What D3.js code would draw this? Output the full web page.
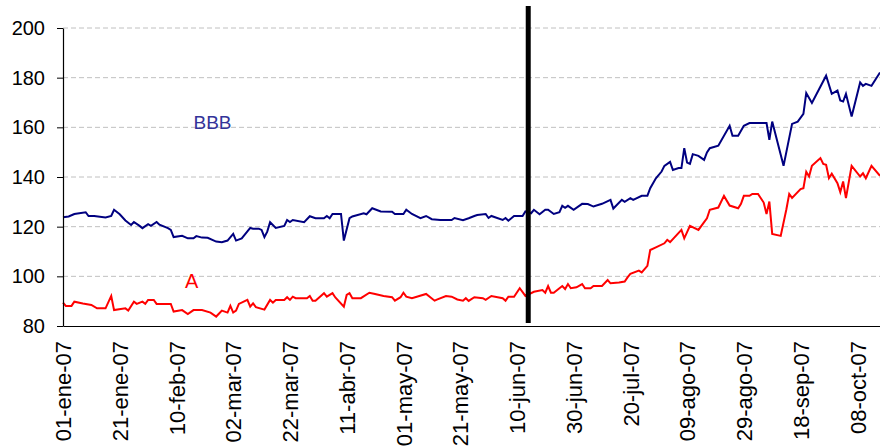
<!DOCTYPE html>
<html>
<head>
<meta charset="utf-8">
<script src="https://cdn.jsdelivr.net/npm/d3@7"></script>
<style>
  body { margin: 0; background: #fff; }
  svg { display: block; font-family: "Liberation Sans", Arial, sans-serif; }
</style>
</head>
<body>
<div id="chart"></div>
<script>
// spreads (bp), daily closes
var bbbDates = ["2007-01-01","2007-01-03","2007-01-05","2007-01-09","2007-01-10","2007-01-12","2007-01-16","2007-01-18","2007-01-19","2007-01-21",
  "2007-01-23","2007-01-25","2007-01-26","2007-01-28","2007-01-29","2007-01-31","2007-02-01","2007-02-03","2007-02-04","2007-02-07",
  "2007-02-08","2007-02-09","2007-02-12","2007-02-14","2007-02-16","2007-02-17","2007-02-19","2007-02-21","2007-02-24","2007-02-26",
  "2007-02-28","2007-03-02","2007-03-03","2007-03-05","2007-03-08","2007-03-09","2007-03-11","2007-03-12","2007-03-13","2007-03-14",
  "2007-03-15","2007-03-17","2007-03-20","2007-03-21","2007-03-22","2007-03-23","2007-03-27","2007-03-29","2007-03-31","2007-04-03",
  "2007-04-04","2007-04-05","2007-04-06","2007-04-09","2007-04-10","2007-04-12","2007-04-13","2007-04-17","2007-04-18","2007-04-20",
  "2007-04-23","2007-04-27","2007-04-28","2007-05-01","2007-05-02","2007-05-04","2007-05-07","2007-05-09","2007-05-11","2007-05-14",
  "2007-05-18","2007-05-19","2007-05-22","2007-05-24","2007-05-26","2007-05-27","2007-05-30","2007-05-31","2007-06-01","2007-06-05",
  "2007-06-06","2007-06-07","2007-06-09","2007-06-12","2007-06-13","2007-06-15","2007-06-16","2007-06-18","2007-06-20","2007-06-21",
  "2007-06-23","2007-06-25","2007-06-26","2007-06-27","2007-06-28","2007-06-30","2007-07-03","2007-07-05","2007-07-07","2007-07-10",
  "2007-07-13","2007-07-14","2007-07-17","2007-07-18","2007-07-20","2007-07-21","2007-07-24","2007-07-26","2007-07-27","2007-07-29",
  "2007-07-31","2007-08-01","2007-08-03","2007-08-04","2007-08-06","2007-08-07","2007-08-08","2007-08-09","2007-08-10","2007-08-11",
  "2007-08-13","2007-08-15","2007-08-16","2007-08-17","2007-08-20","2007-08-24","2007-08-25","2007-08-27","2007-08-29","2007-08-31",
  "2007-09-06","2007-09-07","2007-09-08","2007-09-12","2007-09-15","2007-09-17","2007-09-19","2007-09-20","2007-09-22","2007-09-27",
  "2007-09-29","2007-10-01","2007-10-02","2007-10-03","2007-10-04","2007-10-06","2007-10-09","2007-10-10","2007-10-11","2007-10-13",
  "2007-10-16"];
var bbbValues = [123.8,124.1,125.1,125.8,124.3,124.3,123.7,124.3,126.8,125.0,
  122.5,120.7,121.9,120.3,119.4,121.0,120.3,121.9,120.8,119.4,
  118.7,115.8,116.3,115.3,115.3,116.2,115.6,115.5,114.0,113.7,
  114.4,117.1,114.4,115.3,119.5,119.2,119.2,118.7,115.8,118.0,
  121.8,119.5,120.3,122.7,121.9,122.7,121.8,124.2,123.4,123.4,
  124.3,123.4,125.1,125.1,114.4,123.4,124.1,125.4,125.0,127.4,
  126.1,126.0,125.1,125.1,126.8,125.1,123.4,124.3,123.0,122.7,
  122.7,123.5,122.6,123.4,124.3,124.7,125.1,123.5,124.3,122.7,
  123.5,122.4,124.3,124.3,126.1,125.4,126.8,125.0,126.8,126.8,
  125.1,125.8,128.4,127.6,128.4,126.8,129.2,129.1,128.1,129.2,
  130.8,127.3,130.8,130.0,131.5,130.8,132.4,132.4,135.5,139.5,
  142.2,144.5,146.1,142.8,143.6,143.6,151.6,145.8,145.3,149.2,
  148.5,146.9,149.9,151.6,152.6,160.6,156.6,156.6,160.6,161.7,
  161.7,155.0,162.3,144.5,161.4,162.3,165.4,173.8,169.8,180.8,
  173.5,174.8,170.8,170.4,173.5,164.4,178.1,176.7,177.5,176.7,
  182.1];

var aDates = ["2007-01-01","2007-01-02","2007-01-04","2007-01-05","2007-01-08","2007-01-11","2007-01-13","2007-01-16","2007-01-18","2007-01-19",
  "2007-01-23","2007-01-24","2007-01-26","2007-01-27","2007-01-29","2007-01-30","2007-01-31","2007-02-02","2007-02-03","2007-02-08",
  "2007-02-09","2007-02-12","2007-02-14","2007-02-16","2007-02-19","2007-02-22","2007-02-24","2007-02-26","2007-02-28","2007-03-01",
  "2007-03-02","2007-03-03","2007-03-04","2007-03-07","2007-03-08","2007-03-09","2007-03-10","2007-03-13","2007-03-15","2007-03-16",
  "2007-03-17","2007-03-20","2007-03-21","2007-03-22","2007-03-23","2007-03-24","2007-03-28","2007-03-29","2007-03-30","2007-03-31",
  "2007-04-03","2007-04-04","2007-04-06","2007-04-07","2007-04-10","2007-04-11","2007-04-12","2007-04-13","2007-04-16","2007-04-19",
  "2007-04-21","2007-04-24","2007-04-27","2007-04-28","2007-04-30","2007-05-01","2007-05-02","2007-05-04","2007-05-09","2007-05-12",
  "2007-05-13","2007-05-16","2007-05-18","2007-05-20","2007-05-22","2007-05-23","2007-05-24","2007-05-26","2007-05-29","2007-05-30",
  "2007-06-01","2007-06-05","2007-06-06","2007-06-07","2007-06-09","2007-06-11","2007-06-13","2007-06-16","2007-06-19","2007-06-20",
  "2007-06-21","2007-06-22","2007-06-23","2007-06-25","2007-06-26","2007-06-27","2007-06-28","2007-06-29","2007-07-01","2007-07-03",
  "2007-07-04","2007-07-06","2007-07-07","2007-07-10","2007-07-12","2007-07-13","2007-07-16","2007-07-18","2007-07-19","2007-07-20",
  "2007-07-23","2007-07-24","2007-07-26","2007-07-27","2007-07-29","2007-08-01","2007-08-02","2007-08-03","2007-08-07","2007-08-08",
  "2007-08-10","2007-08-13","2007-08-15","2007-08-16","2007-08-17","2007-08-20","2007-08-22","2007-08-24","2007-08-27","2007-08-28",
  "2007-08-29","2007-08-31","2007-09-01","2007-09-03","2007-09-05","2007-09-06","2007-09-07","2007-09-08","2007-09-11","2007-09-13",
  "2007-09-14","2007-09-15","2007-09-18","2007-09-19","2007-09-20","2007-09-21","2007-09-22","2007-09-25","2007-09-26","2007-09-27",
  "2007-09-28","2007-09-29","2007-10-01","2007-10-02","2007-10-03","2007-10-04","2007-10-06","2007-10-09","2007-10-10","2007-10-11",
  "2007-10-13","2007-10-16"];
var aValues = [89.4,88.1,88.1,89.8,89.1,88.5,87.1,87.1,92.1,86.4,
  87.1,86.2,89.8,88.9,89.8,88.9,90.5,90.5,88.9,88.9,
  85.8,86.4,84.8,86.4,86.4,85.4,83.8,86.2,85.4,88.1,
  85.4,86.2,88.9,90.5,87.8,89.1,87.6,86.6,90.5,89.4,
  90.5,90.5,91.6,90.5,91.8,91.2,91.2,92.1,90.2,90.2,
  93.2,91.8,93.2,91.5,87.8,92.5,93.2,91.2,91.2,93.4,
  92.9,92.1,91.6,90.2,91.6,93.4,91.8,91.2,92.9,90.2,
  90.7,92.1,91.8,90.7,90.2,91.2,90.1,91.6,91.2,90.5,
  92.1,91.2,90.2,91.8,91.8,95.2,92.1,93.8,94.5,93.4,
  96.1,93.4,93.4,95.2,96.1,94.9,96.9,95.2,95.6,96.9,
  95.2,95.2,96.1,96.1,98.5,97.2,97.5,97.9,99.6,101.0,
  102.3,101.6,104.2,110.6,111.7,113.3,114.7,113.8,118.7,115.3,
  120.3,118.7,121.8,123.4,126.8,127.7,132.4,128.5,127.4,129.2,
  132.4,132.4,133.2,133.2,129.7,125.1,130.1,117.1,116.3,127.0,
  133.2,131.6,135.1,135.5,142.1,140.2,144.5,147.6,145.3,144.9,
  139.5,141.3,137.5,133.9,138.2,131.5,144.5,140.2,141.5,139.5,
  144.5,140.5];

var seriesNames = ["BBB", "A"];
var tickDates = ["2007-01-01","2007-01-21","2007-02-10","2007-03-02","2007-03-22","2007-04-11","2007-05-01",
  "2007-05-21","2007-06-10","2007-06-30","2007-07-20","2007-08-09","2007-08-29","2007-09-18","2007-10-08"];
var monthsEs = ["ene","feb","mar","abr","may","jun","jul","ago","sep","oct","nov","dic"];
var yTicks = [80, 100, 120, 140, 160, 180, 200];
var eventDate = "2007-06-14";
var dateRange = ["2007-01-01", "2007-10-16"];

var svgWidth = 880, svgHeight = 447;
var plotLeft = 63, plotRight = 880, plotTop = 28, plotBottom = 326;

var parseDate = d3.timeParse("%Y-%m-%d");
var fmt = function(d){
    return d3.timeFormat("%d")(d) + "-" + monthsEs[d.getMonth()] + "-" + d3.timeFormat("%y")(d);
};

var x = d3.scaleTime()
    .domain(dateRange.map(parseDate))
    .range([plotLeft, plotRight]);
var y = d3.scaleLinear()
    .domain([80, 200])
    .range([plotBottom, plotTop]);

var svg = d3.select("#chart").append("svg")
    .attr("width", svgWidth)
    .attr("height", svgHeight);

svg.append("rect").attr("width", svgWidth).attr("height", svgHeight).attr("fill", "#fff");

// dashed gridlines
svg.append("g").selectAll("line")
    .data(yTicks.filter(function(v){ return v > 80; }))
    .enter().append("line")
        .attr("x1", plotLeft).attr("x2", plotRight)
        .attr("y1", function(d){ return y(d); })
        .attr("y2", function(d){ return y(d); })
        .attr("stroke", "#c0c0c0")
        .attr("stroke-width", 1)
        .attr("stroke-dasharray", "5,3");

var line = d3.line()
    .x(function(d){ return x(d.date); })
    .y(function(d){ return y(d.value); })
    .curve(d3.curveLinear);

function toPoints(dates, values){
    return dates.map(function(s, i){ return {date: parseDate(s), value: values[i]}; });
}

svg.append("path")
    .attr("fill", "none")
    .attr("stroke", "#000080")
    .attr("stroke-width", 2)
    .attr("d", line(toPoints(bbbDates, bbbValues)));

svg.append("path")
    .attr("fill", "none")
    .attr("stroke", "#ff0000")
    .attr("stroke-width", 2)
    .attr("d", line(toPoints(aDates, aValues)));

// event marker
var ex = x(parseDate(eventDate));
svg.append("line")
    .attr("x1", ex).attr("x2", ex)
    .attr("y1", 6).attr("y2", 323)
    .attr("stroke", "#000")
    .attr("stroke-width", 5);

// y axis
var yAxis = svg.append("g")
    .attr("transform", "translate(" + plotLeft + ",0)")
    .call(d3.axisLeft(y).tickValues(yTicks).tickSize(6).tickSizeOuter(0));
yAxis.select(".domain").attr("stroke", "#000").attr("stroke-width", 1.2);
yAxis.selectAll(".tick line").attr("stroke", "#000");
yAxis.selectAll("text")
    .attr("x", -18)
    .attr("font-size", "20px")
    .attr("font-family", "'Liberation Sans', Arial, sans-serif")
    .attr("fill", "#000");

// x axis
var xAxis = svg.append("g")
    .attr("transform", "translate(0," + plotBottom + ")")
    .call(d3.axisBottom(x).tickValues(tickDates.map(parseDate)).tickFormat(fmt).tickSize(0).tickSizeOuter(0));
xAxis.select(".domain").attr("stroke", "#000").attr("stroke-width", 1.2);
xAxis.selectAll("text")
    .attr("font-size", "22px")
    .attr("font-family", "'Liberation Sans', Arial, sans-serif")
    .attr("fill", "#000")
    .attr("text-anchor", "end")
    .attr("dy", "0.35em")
    .attr("transform", "translate(0,15) rotate(-90)")
    .attr("x", 0).attr("y", 0);

// series labels
svg.append("text")
    .attr("x", x(parseDate("2007-02-16")))
    .attr("y", y(159.2))
    .attr("font-size", "19px")
    .attr("fill", "#333399")
    .text(seriesNames[0]);
svg.append("text")
    .attr("x", x(parseDate("2007-02-13")))
    .attr("y", y(95.2))
    .attr("font-size", "20px")
    .attr("fill", "#ff0000")
    .text(seriesNames[1]);
</script>
</body>
</html>
